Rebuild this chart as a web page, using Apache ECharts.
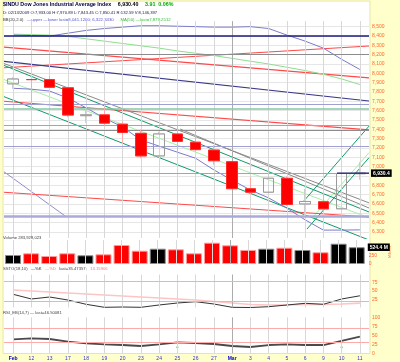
<!DOCTYPE html>
<html>
<head>
<meta charset="utf-8">
<script src="https://cdn.jsdelivr.net/npm/echarts@6.0.0/dist/echarts.min.js"></script>
<style>
html,body{margin:0;padding:0;background:#ffffcc;overflow:hidden;}
#chart{width:400px;height:362px;}
</style>
</head>
<body>
<div id="chart"></div>
<script>
// ---------------- data ----------------
const dates  = ['Feb','12','13','17','18','19','20','23','24','25','26','27','Mar','3','4','5','6','9','10','11'];
const opens  = [7887,7933,7933,7845,7546,7555,7455,7357,7115,7350,7262,7178,7053,6763,6726,6875,6600,6624,6548,6924];
const closes = [7939.53,7932.76,7850.41,7552.60,7555.63,7465.95,7365.67,7114.78,7350.94,7270.89,7182.08,7062.93,6763.29,6726.02,6875.84,6594.44,6626.94,6547.05,6926.49,6930.40];
const lows   = [7834,7680,7843,7530,7470,7440,7250,7090,7100,7140,7160,7020,6760,6700,6720,6580,6470,6520,6545,6860];
const highs  = [7960,7940,7971,7845,7630,7640,7480,7400,7375,7440,7420,7230,7060,6890,7010,6895,6760,6710,6935,7050];
const prevClose = 7888.88;
const volumes = [281,334,250,334,272,303,594,416,478,459,334,666,584,438,478,509,438,366,634,524.4]; // millions
const bbUpper = [8410,8405,8400,8430,8460,8480,8495,8510,8510,8505,8500,8495,8495,8500,8480,8410,8345,8270,8150,8041.12];
const bbLower = [7840,7830,7810,7735,7630,7520,7425,7285,7220,7155,7090,6965,6855,6750,6665,6555,6430,6320,6320,6322.34];
const ma50    = [8420,8415,8410,8395,8370,8345,8320,8295,8270,8240,8215,8190,8160,8130,8100,8065,8030,7990,7940,7879.25];
const sstoK = [40.0,25.8,31.8,22.7,9.7,0.6,1.5,0.6,7.6,13.6,17.6,10.6,0.6,0.0,2.4,7.6,12.7,9.7,25.8,35.47];
const sstoD = [53.0,50.0,47.0,43.9,40.9,37.9,34.8,31.8,28.8,25.8,22.7,18.2,13.6,9.1,7.6,7.6,9.1,9.1,10.6,13.16];
const rsi   = [38.9,41.7,39.7,32.2,27.8,25.0,23.0,20.3,25.0,30.5,28.6,25.8,20.3,17.5,23.0,25.0,23.0,23.0,34.2,46.5];
const rsiSignalIdx = [9,18];
const rsiSignalLevel = 16.5;
// horizontal price lines
const navyLevels = [8400];
const greyLevels = [8200,7393];
const purpleLevels = [7671,7446,7221,6932];
const purpleThickLevels = [6471];
const tealLevels = [7623];
// trend lines: [barIndex1, price1, barIndex2, price2]
const redTrends   = [[-0.5,8281,19.5,7951],[-0.5,8059,19.5,8293],[-0.5,7700,19.5,7394],[-0.5,6725,19.5,6461]];
const navyTrends  = [[-0.5,8128,19.5,7703]];
const greyTrends  = [[-0.5,8105,19.5,6612],[9.15,7403,19.5,6557]];
const tealTrends  = [[-0.5,8085,19.5,6514],[-0.5,7750,19.5,6214],[15.88,6621,19.5,7434],[16.1,6331,19.5,7096]];
const lightGreenTrends = [[-0.5,7933,19.5,6452],[16.43,6460,19.5,7150]];
const purpleTrends = [[-0.5,6945,2.85,6471]];
const lastPrice = 6930.40;
const lastLineStart = 17.75;
const lastVolume = 524.4;
const sstoLevels = [80,20];
const rsiLevels = [70,30];

// ---------------- layout / style ----------------
const FONT = 'Liberation Sans, Arial, sans-serif';
const LEFT = 4, WIDTH = 365;
const AX = '#ff6633';
const N = dates.length;
const fmt = v => v.toLocaleString('en-US');

const chart = echarts.init(document.getElementById('chart'));

const grids = [
  {left: LEFT, width: WIDTH, top: 8, height: 230.5},       // 0 main data
  {left: LEFT, width: WIDTH, top: 26.67, height: 205.33},  // 1 main labels/grid
  {left: LEFT, width: WIDTH, top: 240, height: 24},        // 2 volume
  {left: LEFT, width: WIDTH, top: 274.5, height: 33},      // 3 ssto
  {left: LEFT, width: WIDTH, top: 317.3, height: 36}       // 4 rsi
];

const hiddenCat = g => ({type:'category', gridIndex:g, data:dates, boundaryGap:true, show:false});
const xAxes = [
  hiddenCat(0),
  {type:'value', gridIndex:0, min:-0.5, max:N-0.5, show:false},
  hiddenCat(1), hiddenCat(2), hiddenCat(3),
  {type:'category', gridIndex:4, data:dates, boundaryGap:true,
   axisLine:{show:false}, axisTick:{show:false},
   axisLabel:{interval:0, margin:2.5, fontSize:5, fontFamily:FONT, color:'#3333cc',
     formatter: v => (v==='Feb'||v==='Mar') ? '{m|'+v+'}' : v,
     rich:{m:{fontWeight:'bold', fontSize:5, fontFamily:FONT, color:'#0000cc'}}}}
];
const lblStyle = {fontSize:5, fontFamily:FONT, color:AX, margin:3};
const yAxes = [
  {type:'value', gridIndex:0, min:6230, max:8700, show:false},
  {type:'value', gridIndex:1, min:6300, max:8500, interval:100, position:'right',
   axisLine:{show:false}, axisTick:{show:false},
   axisLabel:Object.assign({formatter:fmt}, lblStyle),
   splitLine:{lineStyle:{color:'#e6e6e6', width:1}}},
  {type:'value', gridIndex:2, min:0, max:750, interval:250, position:'right',
   axisLine:{show:false}, axisTick:{show:false}, splitLine:{show:false},
   name:'Millions', nameLocation:'middle', nameRotate:90, nameGap:15,
   nameTextStyle:{fontSize:3.6, fontFamily:FONT, color:AX},
   axisLabel:Object.assign({formatter: v => (v===0||v===250) ? String(v) : ''}, lblStyle)},
  {type:'value', gridIndex:3, min:0, max:100, interval:25, position:'right',
   axisLine:{show:false}, axisTick:{show:false}, splitLine:{show:false},
   axisLabel:Object.assign({formatter: v => (v>0&&v<100) ? String(v) : ''}, lblStyle)},
  {type:'value', gridIndex:4, min:0, max:100, interval:25, position:'right',
   axisLine:{show:false}, axisTick:{show:false}, splitLine:{show:false},
   axisLabel:Object.assign({formatter: v => String(v)}, lblStyle)}
];

const vGrid = (extra) => dates.map((d,i) => {
  const c = (d==='Mar') ? '#acacac' : '#d8d8d8';
  if (extra) return [{coord:[i, extra[0]], lineStyle:{color:c}}, {coord:[i, extra[1]]}];
  return {xAxis:i, lineStyle:{color:c}};
});
const mlBase = {silent:true, symbol:['none','none'], label:{show:false}, animation:false};

const series = [];
// vertical grid in main pane
series.push({type:'line', z:1, xAxisIndex:0, yAxisIndex:0, data:[], silent:true,
  markLine:Object.assign({data:vGrid([8560,6235]), lineStyle:{width:1, type:'solid'}}, mlBase)});
// grid-1 dummy for axis
series.push({type:'line', z:1, xAxisIndex:2, yAxisIndex:1, data:[], silent:true});

// horizontal levels
const hLevels = (levels, color, width) => ({type:'line', z:2, xAxisIndex:0, yAxisIndex:0, data:[], silent:true,
  markLine:Object.assign({data: levels.map(v=>({yAxis:v})), lineStyle:{color, width, type:'solid'}}, mlBase)});
series.push(hLevels(purpleThickLevels,'#aaaad8',2.6));
series.push(hLevels(tealLevels,'#86c8a8',1.6));
series.push(hLevels(purpleLevels,'#a0a0d0',1));
series.push(hLevels(greyLevels,'#8c8c8c',1));
series.push(hLevels(navyLevels,'#1a1a80',1.6));

// trend lines
const trend = (arr, color, width) => arr.forEach(t => series.push({
  type:'line', z:3, xAxisIndex:1, yAxisIndex:0, data:[[t[0],t[1]],[t[2],t[3]]],
  symbol:'none', silent:true, clip:true, lineStyle:{color, width}, animation:false}));
trend(lightGreenTrends,'#a8eea8',1);
trend(purpleTrends,'#8f8fcc',1);
trend(redTrends,'#ff4848',1.1);
trend(navyTrends,'#3a3a8a',1.1);
trend(greyTrends,'#8a8a8a',1);
trend(tealTrends,'#109a68',1);

// BB & MA
const lineS = (data, color, width) => ({type:'line', z:4, xAxisIndex:0, yAxisIndex:0, data, symbol:'none',
  silent:true, clip:true, lineStyle:{color, width}, animation:false});
series.push(lineS(ma50,'#8ede8e',1));
series.push(lineS(bbUpper,'#7b7bcc',1));
series.push(lineS(bbLower,'#7b7bcc',1));

// candles: wick layer and body layer
series.push({type:'candlestick', z:5, xAxisIndex:0, yAxisIndex:0, barWidth:11, silent:true,
  data: dates.map((d,i)=>[opens[i],closes[i],lows[i],highs[i]]),
  itemStyle:{color:'rgba(0,0,0,0)', color0:'rgba(0,0,0,0)', borderColor:'#cccccc', borderColor0:'#ffaaaa', borderWidth:1},
  animation:false});
series.push({type:'candlestick', z:6, xAxisIndex:0, yAxisIndex:0, barWidth:11, silent:true,
  data: dates.map((d,i)=>[opens[i],closes[i],Math.min(opens[i],closes[i]),Math.max(opens[i],closes[i])]),
  itemStyle:{color:'rgba(255,255,255,0)', color0:'#ff0000', borderColor:'#9a9a9a', borderColor0:'#ff2a2a', borderWidth:1},
  animation:false});

// last price line with label
series.push({type:'line', z:7, xAxisIndex:1, yAxisIndex:0, data:[[lastLineStart,lastPrice],[N-0.5,lastPrice]],
  symbol:'none', silent:true, lineStyle:{color:'#1a1a70', width:1.2}, animation:false,
  endLabel:{show:true, formatter: () => fmt(lastPrice), backgroundColor:'#000', color:'#fff',
    fontSize:5, fontFamily:FONT, fontWeight:'bold', padding:[1.5,2,1,2], distance:2}});

// volume
const upDay = i => closes[i] >= (i===0 ? prevClose : closes[i-1]);
series.push({type:'line', z:1, xAxisIndex:3, yAxisIndex:2, data:[], silent:true,
  markLine:Object.assign({data:vGrid(), lineStyle:{width:1,type:'solid'}}, mlBase)});
series.push({type:'bar', z:3, xAxisIndex:3, yAxisIndex:2, barWidth:16, silent:true, animation:false,
  data: volumes.map((v,i)=>({value:v, itemStyle:{color: upDay(i)?'#000000':'#ff0000',
      borderColor: upDay(i)?'#8a8a8a':'#ff9a9a', borderWidth:1}}))});
series.push({type:'line', z:4, xAxisIndex:3, yAxisIndex:2, silent:true, data:[], animation:false,
  markLine:{silent:true, symbol:['none','none'], animation:false,
    data:[{yAxis:lastVolume}], lineStyle:{color:'rgba(0,0,0,0)', width:0},
    label:{show:true, position:'end', formatter:()=>lastVolume+' M', backgroundColor:'#000', color:'#fff',
      fontSize:5, fontFamily:FONT, fontWeight:'bold', padding:[1.5,2,1,2], distance:2}}});

// SSTO
series.push({type:'line', z:1, xAxisIndex:4, yAxisIndex:3, data:[], silent:true,
  markLine:Object.assign({data:vGrid(), lineStyle:{width:1,type:'solid'}}, mlBase)});
series.push({type:'line', z:2, xAxisIndex:4, yAxisIndex:3, data:[], silent:true,
  markLine:Object.assign({data:sstoLevels.map(v=>({yAxis:v})), lineStyle:{color:'#ffaaaa',width:1.2,type:'solid'}}, mlBase)});
series.push({type:'line', z:3, xAxisIndex:4, yAxisIndex:3, data:sstoD, symbol:'none', silent:true,
  lineStyle:{color:'#ffc4c4', width:1.6}, animation:false});
series.push({type:'line', z:4, xAxisIndex:4, yAxisIndex:3, data:sstoK, symbol:'none', silent:true,
  lineStyle:{color:'#333333', width:1}, animation:false});

// RSI
series.push({type:'line', z:1, xAxisIndex:5, yAxisIndex:4, data:[], silent:true,
  markLine:Object.assign({data:vGrid(), lineStyle:{width:1,type:'solid'}}, mlBase)});
series.push({type:'line', z:2, xAxisIndex:5, yAxisIndex:4, data:[], silent:true,
  markLine:Object.assign({data:rsiLevels.map(v=>({yAxis:v})), lineStyle:{color:'#ffaaaa',width:1.2,type:'solid'}}, mlBase)});
series.push({type:'line', z:3, xAxisIndex:5, yAxisIndex:4, data:rsi, symbol:'none', silent:true,
  lineStyle:{color:'#4a4a4a', width:1.8}, animation:false});
series.push({type:'scatter', z:4, xAxisIndex:5, yAxisIndex:4, silent:true, symbolSize:2.2,
  data: rsiSignalIdx.map(i=>[i, rsiSignalLevel]), itemStyle:{color:'#00cc00'}, animation:false});

const txt = (x, y, text, rich, z) => ({type:'text', x, y, z: z||100, silent:true,
  style:{text, rich, fontFamily:FONT, verticalAlign:'middle'}});
const R = (size, color, bold) => ({fontSize:size, fontFamily:FONT, fill:color, color, fontWeight: bold?'bold':'normal'});

chart.setOption({
  animation:false,
  backgroundColor:'#ffffcc',
  grid: grids, xAxis: xAxes, yAxis: yAxes, series,
  graphic: [
    {type:'rect', z:-100, silent:true, shape:{x:3, y:1, width:367, height:352.5},
     style:{fill:'#ffffff', stroke:'#e6e6a8', lineWidth:1}},
    txt(3, 5, '{a|$INDU Dow Jones Industrial Average Index}  {b|6,930.40}  {c|3.91  0.06%}',
      {a:R(5.3,'#000040',true), b:R(5.3,'#000000',true), c:R(5.3,'#00aa00',true)}),
    txt(3, 13, '{a|D: 02/13/2009 O:7,933.00 H:7,970.89 L:7,843.45 C:7,850.41 R:132.59 V:8,146,397}',
      {a:R(4.2,'#222244',false)}),
    txt(3, 19.5, '{a|BB(20,2.0)} {b|—upper —lower last=8,041.1200; 6,322.3430}  {c|MA(50) —last=7,879.2512}',
      {a:R(4.3,'#333333',false), b:R(4.3,'#5555cc',false), c:R(4.3,'#33bb33',false)}),
    txt(3, 237.5, '{a|Volume 283,928,023}', {a:R(4.2,'#444444',false)}),
    txt(3, 269, '{a|SSTO(18,10)} {b|—%K} {c|—%D} {a|last=35.47357;} {c|13.15906}',
      {a:R(4.2,'#444444',false), b:R(4.2,'#222222',false), c:R(4.2,'#ff7777',false)}),
    txt(3, 313, '{a|RSI_EB(14,7) — last=46.50081}', {a:R(4.2,'#444444',false)})
  ]
});
</script>
</body>
</html>
